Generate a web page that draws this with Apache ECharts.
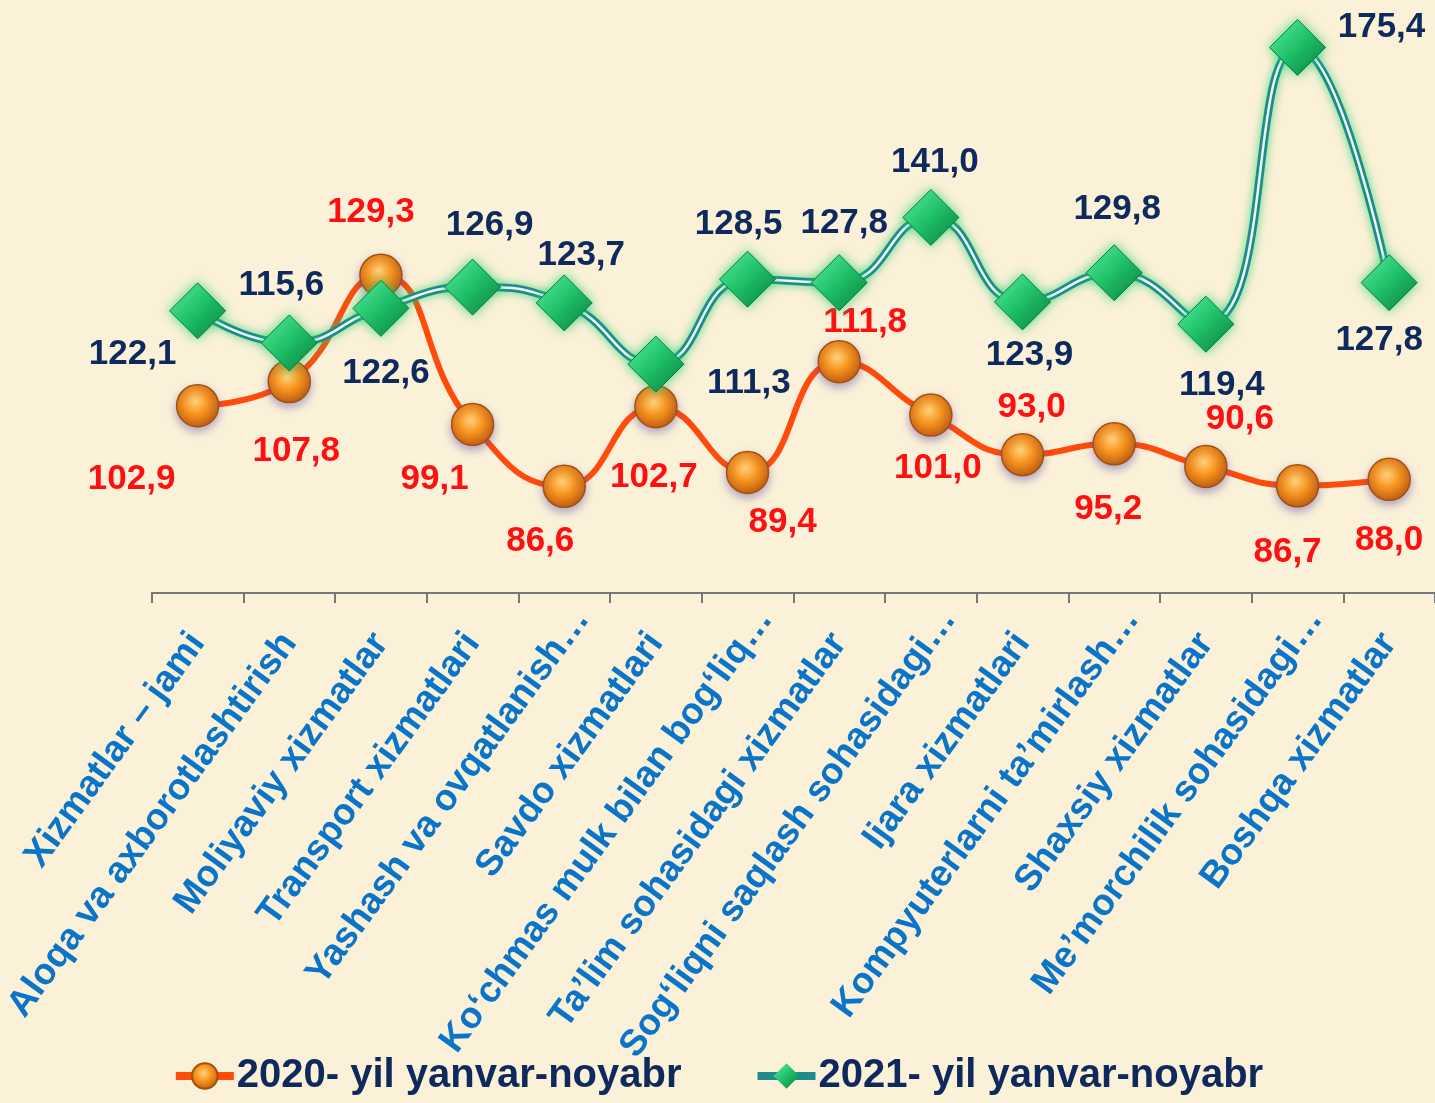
<!DOCTYPE html>
<html lang="uz">
<head>
  <meta charset="UTF-8" />
  <title>Xizmatlar o'sish sur'atlari</title>
  <script src="https://cdn.jsdelivr.net/npm/echarts@6/dist/echarts.min.js"></script>
  <style>
    html, body { margin: 0; padding: 0; background: #fbf1d8; }
    #chart { width: 1435px; height: 1103px; }
  </style>
</head>
<body>
  <div id="chart"></div>
  <script>
    // categories
    const categories = [
      'Xizmatlar – jami',
      'Aloqa va axborotlashtirish',
      'Moliyaviy xizmatlar',
      'Transport xizmatlari',
      'Yashash va ovqatlanish…',
      'Savdo xizmatlari',
      'Ko‘chmas mulk bilan bog‘liq…',
      'Ta’lim sohasidagi xizmatlar',
      'Sog‘liqni saqlash sohasidagi…',
      'Ijara xizmatlari',
      'Kompyuterlarni ta’mirlash…',
      'Shaxsiy xizmatlar',
      'Me’morchilik sohasidagi…',
      'Boshqa xizmatlar'
    ];
    const name2020 = '2020- yil yanvar-noyabr';
    const name2021 = '2021- yil yanvar-noyabr';
    const values2020 = [102.9, 107.8, 129.3, 99.1, 86.6, 102.7, 89.4, 111.8, 101.0, 93.0, 95.2, 90.6, 86.7, 88.0];
    const values2021 = [122.1, 115.6, 122.6, 126.9, 123.7, 111.3, 128.5, 127.8, 141.0, 123.9, 129.8, 119.4, 175.4, 127.8];

    // label placement (px offset from the point)
    const offsets2020 = [[-66, 74], [7, 70], [-10, -63], [-38, 55], [-24, 55], [-2, 71], [35, 50],
                         [26, -39], [7, 53], [9, -47], [-6, 66], [34, -47], [-10, 67], [0, 61]];
    const offsets2021 = [[-65, 44], [-8, -58], [5, 65], [17, -62], [17, -48], [93, 19], [-9, -55],
                         [5, -59], [4, -55], [7, 53], [3, -63], [16, 61], [84, -20], [-10, 58]];

    const fmt = v => v.toFixed(1).replace('.', ',');
    const font = '"Liberation Sans", Arial, sans-serif';

    const orangeBall = {
      type: 'radial', x: 0.45, y: 0.4, r: 0.65,
      colorStops: [
        { offset: 0, color: '#ffd27a' },
        { offset: 0.45, color: '#f7941e' },
        { offset: 1, color: '#b9560c' }
      ]
    };
    const greenGem = {
      type: 'linear', x: 0, y: 0, x2: 1, y2: 1,
      colorStops: [
        { offset: 0, color: '#5cf0a2' },
        { offset: 0.5, color: '#1fbf68' },
        { offset: 1, color: '#087a3c' }
      ]
    };

    // truncated names run past the tick, as in the original slide
    const axisData = categories.map(c => c.endsWith('…')
      ? { value: c, textStyle: { padding: [0, -30, 0, 0] } }
      : c);

    const data2020 = values2020.map((v, i) => ({
      value: v,
      label: { offset: offsets2020[i] }
    }));
    const data2021 = values2021.map((v, i) => ({
      value: v,
      label: { offset: offsets2021[i] }
    }));

    const chart = echarts.init(document.getElementById('chart'));
    chart.setOption({
      backgroundColor: '#fbf1d8',
      animation: false,
      grid: { left: 150, right: -5, top: 0, bottom: 510, containLabel: false },
      legend: {
        bottom: 2,
        left: 'center',
        itemGap: 72,
        itemWidth: 58,
        itemHeight: 32,
        textStyle: { color: '#0e2a5c', fontSize: 40, fontWeight: 'bold', fontFamily: font, padding: [0, 0, 0, -2] },
        data: [
          {
            name: name2020,
            lineStyle: { color: '#ff4b0c', width: 8, opacity: 1 }
          },
          {
            name: name2021,
            itemStyle: { color: greenGem, borderWidth: 0 },
            lineStyle: { color: '#1d8c8a', width: 8, opacity: 1 }
          }
        ]
      },
      xAxis: {
        type: 'category',
        data: axisData,
        boundaryGap: true,
        axisLine: { lineStyle: { color: '#777', width: 2 } },
        axisTick: { show: true, interval: 0, length: 10, lineStyle: { color: '#777', width: 2 } },
        axisLabel: {
          rotate: 54,
          margin: 44,
          interval: 0,
          color: '#0a74c8',
          fontSize: 37,
          fontWeight: 'bold',
          fontFamily: font
        }
      },
      yAxis: {
        type: 'value',
        min: 65,
        max: 185,
        show: false,
        splitLine: { show: false }
      },
      series: [
        {
          name: name2020,
          type: 'line',
          smooth: true,
          z: 2,
          data: data2020,
          symbol: 'circle',
          symbolSize: 42,
          lineStyle: { color: '#ff4b0c', width: 6 },
          itemStyle: {
            color: orangeBall,
            borderColor: '#a4500f',
            borderWidth: 1.5,
            shadowColor: 'rgba(90,70,170,0.45)',
            shadowBlur: 8,
            shadowOffsetY: 4
          },
          label: {
            show: true,
            position: 'inside',
            formatter: p => fmt(p.value),
            color: '#ff1010',
            fontSize: 35,
            fontWeight: 'bold',
            fontFamily: font
          }
        },
        {
          // teal outer band of the 2021 line
          name: 'band2021',
          type: 'line',
          smooth: true,
          z: 3,
          data: values2021,
          symbol: 'none',
          silent: true,
          lineStyle: {
            color: '#1d8c8a', width: 8,
            shadowColor: 'rgba(40,210,110,0.8)', shadowBlur: 10
          },
          label: { show: false }
        },
        {
          // light centre of the double line
          name: 'inner2021',
          type: 'line',
          smooth: true,
          z: 4,
          data: values2021,
          symbol: 'none',
          silent: true,
          lineStyle: { color: '#eaf6ee', width: 2.5 },
          label: { show: false }
        },
        {
          name: name2021,
          type: 'line',
          smooth: true,
          z: 5,
          data: data2021,
          symbol: 'diamond',
          symbolSize: 56,
          lineStyle: { width: 0, opacity: 0 },
          itemStyle: {
            color: greenGem,
            borderColor: '#0b7a45',
            borderWidth: 1,
            shadowColor: 'rgba(40,210,110,0.8)',
            shadowBlur: 12
          },
          label: {
            show: true,
            position: 'inside',
            formatter: p => fmt(p.value),
            color: '#0e2a5c',
            fontSize: 35,
            fontWeight: 'bold',
            fontFamily: font
          }
        }
      ]
    });
  </script>
</body>
</html>
